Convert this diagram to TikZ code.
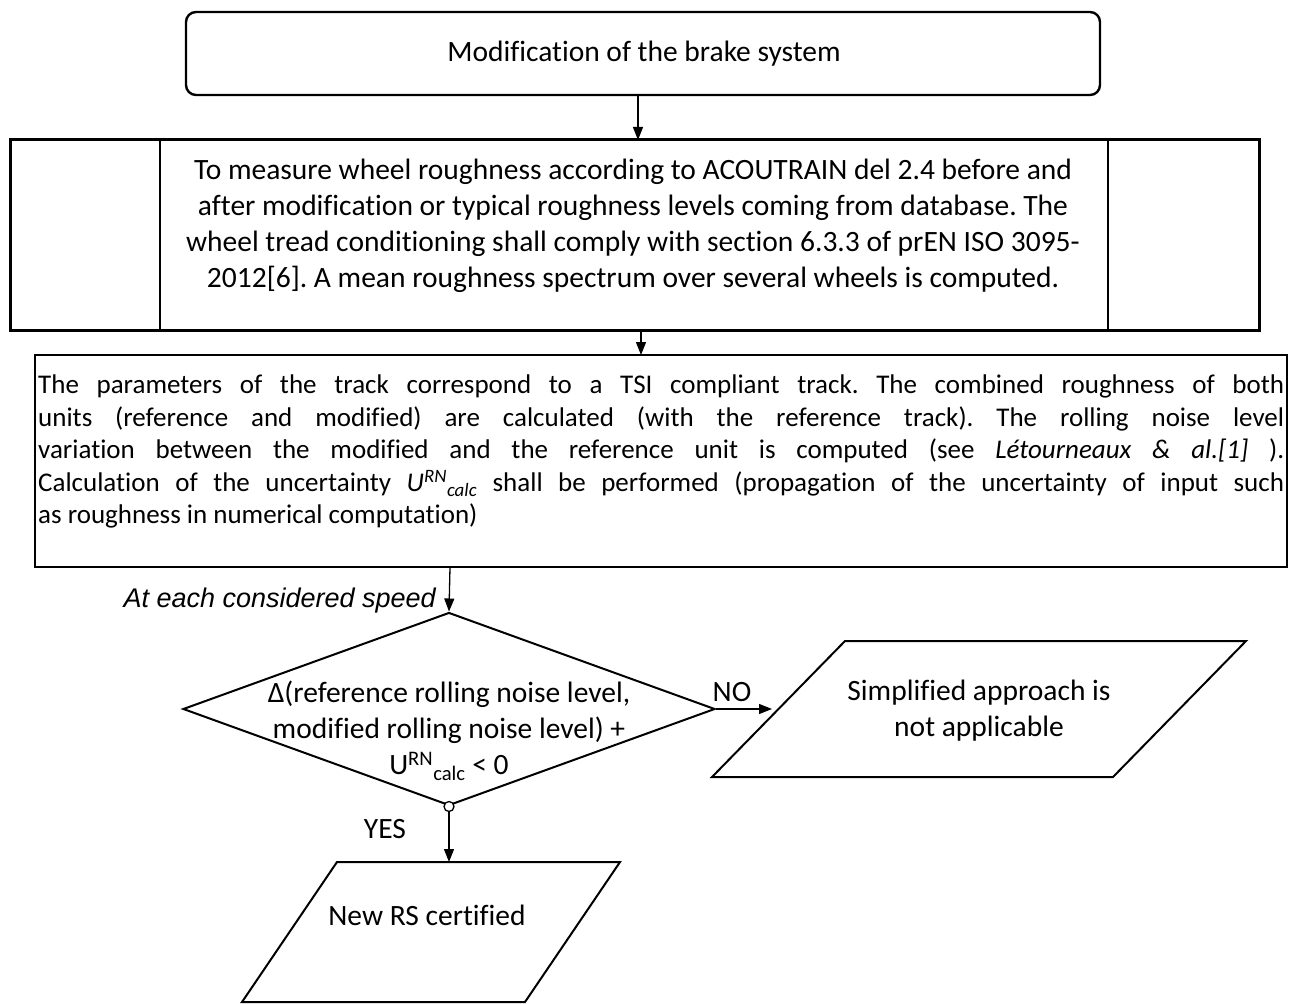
\documentclass[tikz,border=0pt]{standalone}
\usepackage{fontspec}
\setmainfont{Carlito}[Ligatures=NoCommon]
\newfontfamily\arialf{Liberation Sans}
\usetikzlibrary{arrows.meta,shapes.geometric,calc}
\frenchspacing
\begin{document}
\begin{tikzpicture}[x=1pt,y=-1pt,line join=miter,
  arr/.style={-{Triangle[length=13pt,width=10pt]},line width=1.3pt},
  txt/.style={font=\fontsize{29.5}{36}\selectfont,inner sep=0pt},
  shp/.style={draw,line width=2pt},
]
\path[use as bounding box,fill=white] (0,0) rectangle (1289,1003);

% top box
\draw[shp,rounded corners=10pt,line width=2.4pt] (186,12) rectangle (1100,95);
\coordinate (topS) at (638,95);
\node[txt] (toptxt) at (644,54) {Modification of the brake system};

% box 2
\draw[line width=3pt] (10,140) rectangle (1259,330);
\draw[line width=1.4pt] (160,140) -- (160,330) (1108,140) -- (1108,330);
\coordinate (b2N) at (638,140);
\coordinate (b2S) at (641,330);
\node[txt,align=center] (b2txt) at (633,226) {To measure wheel roughness according to ACOUTRAIN del 2.4 before and\\after modification or typical roughness levels coming from database. The\\wheel tread conditioning shall comply with section 6.3.3 of prEN ISO 3095-\\2012[6]. A mean roughness spectrum over several wheels is computed.};

\draw[arr] (topS) -- (b2N);

% box 3
\draw[line width=1.6pt] (35,355) rectangle (1287,567);
\coordinate (b3N) at (641,355);
\coordinate (b3S) at (450,567);
\node[inner sep=0pt,font=\fontsize{27}{32.5}\selectfont,text width=1246pt,align=justify,anchor=north west] (b3txt) at (38,375) {The parameters of the track correspond to a TSI compliant track. The combined roughness of both\linebreak units (reference and modified) are calculated (with the reference track). The rolling noise level\linebreak variation between the modified and the reference unit is computed (see \textit{Létourneaux \& al.[1]} ).\linebreak Calculation of the uncertainty \textit{U\textsuperscript{RN}\textsubscript{calc}} shall be performed (propagation of the uncertainty of input such\linebreak as roughness in numerical computation)};

\draw[arr] (b2S) -- (b3N);

% decision
\node[shp,diamond,minimum width=532pt,minimum height=193pt,inner sep=0pt] (dec) at (449,709) {};
\node[txt,align=center] (dectxt) at (449,731) {Δ(reference rolling noise level,\\modified rolling noise level) +\\U\textsuperscript{RN}\textsubscript{calc} {<} 0};
\draw[arr] (b3S) -- (dec.north);
\node[font=\arialf\itshape\fontsize{27}{30}\selectfont,anchor=east,inner sep=0pt] (speed) at (436,601) {At each considered speed};

% not applicable
\draw[shp] (845,641) -- (1246,641) -- (1113,777) -- (712,777) -- cycle;
\coordinate (naW) at (772,709);
\node[txt,align=center] (natxt) at (979,711) {Simplified approach is\\not applicable};
\draw[arr] (dec.east) -- (naW);
\node[txt] (no) at (732,692) {NO};

% certified
\draw[shp] (337,862) -- (620,862) -- (525,1002) -- (242,1002) -- cycle;
\coordinate (rsN) at (449,862);
\node[txt] (rstxt) at (427,915) {New RS certified};
\node[draw,circle,fill=white,line width=1.3pt,minimum size=10pt,inner sep=0pt] (yc) at (dec.south) {};
\draw[arr] (yc.south) -- (rsN);
\node[txt] (yes) at (385,829) {YES};
\end{tikzpicture}
\end{document}
